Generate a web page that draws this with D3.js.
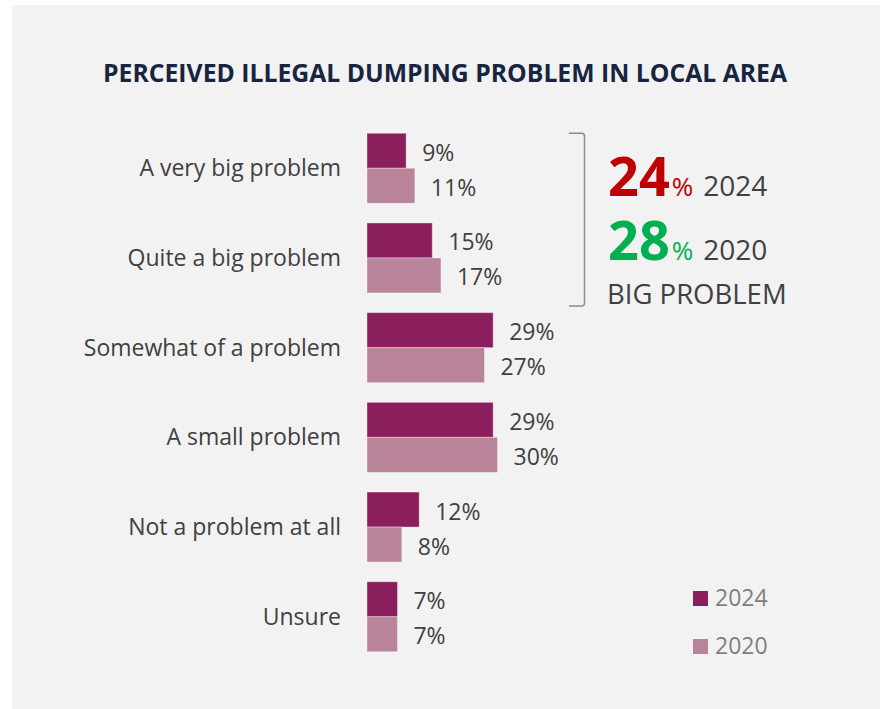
<!DOCTYPE html>
<html>
<head>
<meta charset="utf-8">
<script src="https://cdn.jsdelivr.net/npm/d3@7"></script>
<style>
  html, body { margin: 0; padding: 0; background: #ffffff; }
  svg { display: block; }
  text { font-family: "Open Sans", "Noto Sans", sans-serif; }
</style>
</head>
<body>
<svg id="chart" width="880" height="709"></svg>
<script>
// Survey responses: how big a problem illegal dumping is in the local area
const categories = [
  "A very big problem",
  "Quite a big problem",
  "Somewhat of a problem",
  "A small problem",
  "Not a problem at all",
  "Unsure"
];
const series = ["2024", "2020"];
const values2024 = [9, 15, 29, 29, 12, 7];
const values2020 = [11, 17, 27, 30, 8, 7];
const bigProblem2024 = 24;
const bigProblem2020 = 28;
const titleText = "PERCEIVED ILLEGAL DUMPING PROBLEM IN LOCAL AREA";

const colors = { "2024": "#8b1e5c", "2020": "#b9839a" };
const rows = categories.map((c, i) => ({ category: c, "2024": values2024[i], "2020": values2020[i] }));

const svg = d3.select("#chart");

// panel background
svg.append("rect")
  .attr("x", 12).attr("y", 5)
  .attr("width", 868).attr("height", 704)
  .attr("fill", "#f2f2f2");

// title
svg.append("text")
  .attr("x", 445).attr("y", 82)
  .attr("text-anchor", "middle")
  .attr("font-size", 25.5)
  .attr("font-weight", 700)
  .attr("fill", "#172540")
  .attr("textLength", 684)
  .attr("lengthAdjust", "spacingAndGlyphs")
  .text(titleText);

// scales
const x = d3.scaleLinear().domain([0, 30]).range([367, 497.5]);
const y = d3.scaleBand().domain(categories).range([123.4, 661.6])
  .paddingInner(0.22).paddingOuter(0.11);
const ySub = d3.scaleBand().domain(series).range([0, y.bandwidth()]);

// category axis (labels only)
const yAxis = d3.axisLeft(y).tickSize(0).tickPadding(0);
const axisG = svg.append("g")
  .attr("transform", "translate(341,0)")
  .call(yAxis);
axisG.select(".domain").remove();
axisG.selectAll("text")
  .attr("font-family", "'Open Sans', sans-serif")
  .attr("font-size", 23)
  .attr("fill", "#404040")
  .attr("dy", "0.35em")
  .attr("text-anchor", "end");

// bars
const groups = svg.append("g").selectAll("g")
  .data(rows).join("g")
  .attr("transform", d => `translate(0,${y(d.category)})`);

groups.selectAll("rect")
  .data(d => series.map(s => ({ key: s, value: d[s] })))
  .join("rect")
  .attr("x", x(0))
  .attr("y", d => ySub(d.key))
  .attr("width", d => x(d.value) - x(0))
  .attr("height", ySub.bandwidth())
  .attr("fill", d => colors[d.key])
  .attr("stroke", "#ffffff")
  .attr("stroke-opacity", 0.35)
  .attr("stroke-width", 1);

// value labels
groups.selectAll("text.val")
  .data(d => series.map(s => ({ key: s, value: d[s] })))
  .join("text")
  .attr("class", "val")
  .attr("x", d => x(d.value) + 16)
  .attr("y", d => ySub(d.key) + ySub.bandwidth() / 2 + 10)
  .attr("font-size", 23)
  .attr("fill", "#404040")
  .text(d => d.value + "%");

// bracket grouping the two "big problem" categories
const bTop = y(categories[0]);
const bBot = 306;
const bx = 584.5, bl = 569, r = 3;
svg.append("path")
  .attr("d", `M${bl},${bTop} H${bx - r} Q${bx},${bTop} ${bx},${bTop + r} V${bBot - r} Q${bx},${bBot} ${bx - r},${bBot} H${bl}`)
  .attr("fill", "none")
  .attr("stroke", "#8c8c8c")
  .attr("stroke-width", 1.5);

// big-problem summary
function summary(yBase, value, color, year) {
  const t = svg.append("text").attr("x", 608).attr("y", yBase);
  t.append("tspan").attr("font-size", 54).attr("font-weight", 700).attr("fill", color).text(value);
  t.append("tspan").attr("font-size", 26).attr("fill", color).attr("dx", 2).text("%");
  t.append("tspan").attr("font-size", 28).attr("fill", "#404040").attr("dx", 10).text(year);
}
summary(196, bigProblem2024, "#c00000", "2024");
summary(260, bigProblem2020, "#00b050", "2020");
svg.append("text")
  .attr("x", 607).attr("y", 304)
  .attr("font-size", 27.5)
  .attr("fill", "#404040")
  .text("BIG PROBLEM");

// legend
const legend = svg.append("g").selectAll("g")
  .data(series).join("g")
  .attr("transform", (d, i) => `translate(693,${591 + i * 48})`);
legend.append("rect")
  .attr("width", 15).attr("height", 15)
  .attr("fill", d => colors[d]);
legend.append("text")
  .attr("x", 22).attr("y", 15)
  .attr("font-size", 23)
  .attr("fill", "#7f7f7f")
  .text(d => d);
</script>
</body>
</html>
